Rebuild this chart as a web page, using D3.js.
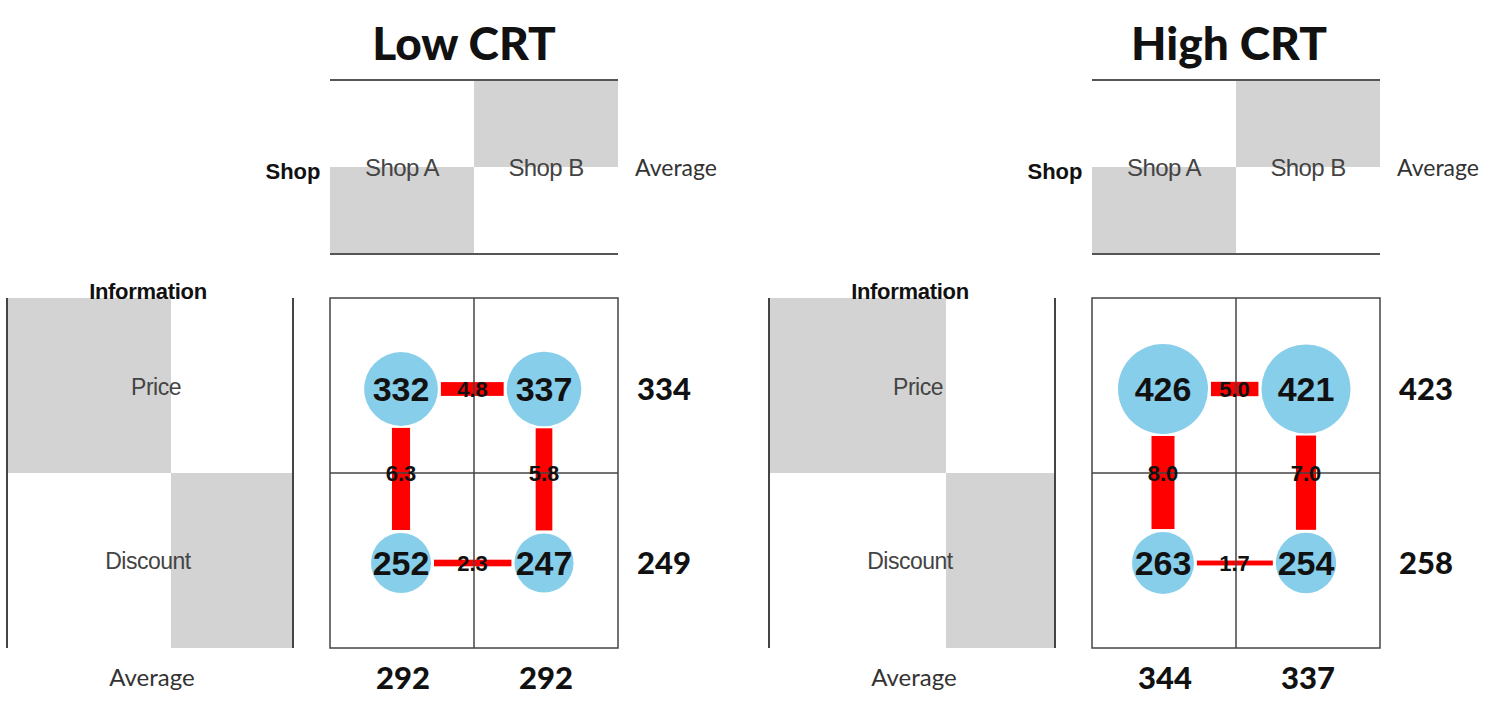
<!DOCTYPE html>
<html>
<head>
<meta charset="utf-8">
<script src="https://cdn.jsdelivr.net/npm/d3@7"></script>
<style>
  body { margin: 0; background: #fff; }
  svg { display: block; }
</style>
</head>
<body>
<div class="chart"></div>
<script>
const panelNames = ['Low CRT', 'High CRT'];
const shops = ['Shop A', 'Shop B'];
const infos = ['Price', 'Discount'];

// cell means, rows = information, cols = shop
const lowPrice = [332, 337];
const lowDiscount = [252, 247];
const highPrice = [426, 421];
const highDiscount = [263, 254];

const lowInfoAvg = [334, 249];
const highInfoAvg = [423, 258];
const lowShopAvg = [292, 292];
const highShopAvg = [344, 337];

// differences between shops (per row) and between information types (per column)
const lowShopGap = [4.8, 2.3];
const lowInfoGap = [6.3, 5.8];
const highShopGap = [5.0, 1.7];
const highInfoGap = [8.0, 7.0];

const panels = [
  { name: panelNames[0], cells: [lowPrice, lowDiscount], infoAvg: lowInfoAvg, shopAvg: lowShopAvg,
    shopGap: lowShopGap, infoGap: lowInfoGap, dx: 0, split: 171, titleX: 464 },
  { name: panelNames[1], cells: [highPrice, highDiscount], infoAvg: highInfoAvg, shopAvg: highShopAvg,
    shopGap: highShopGap, infoGap: highInfoGap, dx: 762, split: 184, titleX: 467 }
];

const width = 1500, height = 707;
const svg = d3.select('.chart').append('svg')
  .attr('width', width).attr('height', height);
svg.append('rect').attr('width', width).attr('height', height).attr('fill', '#fff');

const gridX = d3.scaleBand().domain(shops).range([330, 618]);
const gridY = d3.scaleBand().domain(infos).range([298, 648]);
const px = d3.scalePoint().domain(shops).range([401, 544]);
const py = d3.scalePoint().domain(infos).range([389, 563]);
const radius = d3.scaleLinear().domain([252, 426]).range([30, 45]);
const thick = d3.scaleLinear().domain([0, 8]).range([0, 23]);
const fmt = d3.format('.1f');

const gray = '#d3d3d3', lineCol = '#444';
const sans = "'Liberation Sans', Arial, sans-serif";
const cal = "Lato, 'Open Sans', sans-serif";

panels.forEach(p => {
  const g = svg.append('g').attr('transform', 'translate(' + p.dx + ',0)');

  // title
  g.append('text').attr('x', p.titleX).attr('y', 60)
    .attr('text-anchor', 'middle').attr('font-family', cal).attr('font-weight', 900)
    .attr('font-size', 46).attr('fill', '#111').text(p.name);

  // shop strip
  g.append('rect').attr('x', gridX('Shop A')).attr('y', 167)
    .attr('width', gridX.bandwidth()).attr('height', 86).attr('fill', gray);
  g.append('rect').attr('x', gridX('Shop B')).attr('y', 81)
    .attr('width', gridX.bandwidth()).attr('height', 86).attr('fill', gray);
  [80, 254].forEach(y => {
    g.append('line').attr('x1', 330).attr('x2', 618).attr('y1', y).attr('y2', y)
      .attr('stroke', '#555').attr('stroke-width', 2);
  });
  g.selectAll('text.shop').data(shops).enter().append('text')
    .attr('class', 'shop')
    .attr('x', d => gridX(d) + gridX.bandwidth() / 2)
    .attr('y', 176).attr('text-anchor', 'middle')
    .attr('font-family', sans).attr('font-size', 24).attr('fill', '#444')
    .attr('letter-spacing', -0.6)
    .text(d => d);
  g.append('text').attr('x', 293).attr('y', 179).attr('text-anchor', 'middle')
    .attr('font-family', sans).attr('font-weight', 700).attr('font-size', 22)
    .attr('fill', '#111').text('Shop');
  g.append('text').attr('x', 676).attr('y', 176).attr('text-anchor', 'middle')
    .attr('font-family', cal).attr('font-size', 23).attr('fill', '#333').text('Average');

  // information strip
  g.append('rect').attr('x', 7).attr('y', gridY('Price'))
    .attr('width', p.split - 7).attr('height', gridY.bandwidth()).attr('fill', gray);
  g.append('rect').attr('x', p.split).attr('y', gridY('Discount'))
    .attr('width', 293 - p.split).attr('height', gridY.bandwidth()).attr('fill', gray);
  [7, 293].forEach(x => {
    g.append('line').attr('x1', x).attr('x2', x).attr('y1', 298).attr('y2', 648)
      .attr('stroke', '#444').attr('stroke-width', 2);
  });
  g.append('text').attr('x', 148).attr('y', 299).attr('text-anchor', 'middle')
    .attr('font-family', sans).attr('font-weight', 700).attr('font-size', 22)
    .attr('letter-spacing', -0.3).attr('fill', '#111').text('Information');
  g.selectAll('text.info').data(infos).enter().append('text')
    .attr('class', 'info')
    .attr('x', d => d === 'Price' ? 156 : 148)
    .attr('y', d => py(d) + 6).attr('text-anchor', 'middle')
    .attr('font-family', sans).attr('font-size', 23).attr('fill', '#444')
    .attr('letter-spacing', -0.5)
    .text(d => d);
  g.append('text').attr('x', 152).attr('y', 686).attr('text-anchor', 'middle')
    .attr('font-family', cal).attr('font-size', 24).attr('fill', '#333').text('Average');

  // connectors between shops (horizontal)
  infos.forEach((inf, i) => {
    const v = p.shopGap[i];
    const x1 = px('Shop A') + radius(p.cells[i][0]) + 3;
    const x2 = px('Shop B') - radius(p.cells[i][1]) - 3;
    g.append('rect').attr('x', x1).attr('y', py(inf) - thick(v) / 2)
      .attr('width', x2 - x1).attr('height', thick(v)).attr('fill', '#ff0000');
  });
  // connectors between information types (vertical)
  shops.forEach((s, j) => {
    const v = p.infoGap[j];
    const y1 = py('Price') + radius(p.cells[0][j]) + 2;
    const y2 = py('Discount') - radius(p.cells[1][j]) - 3;
    g.append('rect').attr('x', px(s) - thick(v) / 2).attr('y', y1)
      .attr('width', thick(v)).attr('height', y2 - y1).attr('fill', '#ff0000');
  });

  // grid
  g.append('rect').attr('x', 330).attr('y', 298).attr('width', 288).attr('height', 350)
    .attr('fill', 'none').attr('stroke', lineCol).attr('stroke-width', 1.5);
  g.append('line').attr('x1', gridX('Shop B')).attr('x2', gridX('Shop B'))
    .attr('y1', 298).attr('y2', 648).attr('stroke', lineCol).attr('stroke-width', 1.5);
  g.append('line').attr('x1', 330).attr('x2', 618)
    .attr('y1', gridY('Discount')).attr('y2', gridY('Discount'))
    .attr('stroke', lineCol).attr('stroke-width', 1.5);

  // gap labels
  infos.forEach((inf, i) => {
    g.append('text').attr('x', (px('Shop A') + px('Shop B')) / 2).attr('y', py(inf) + 8)
      .attr('text-anchor', 'middle').attr('font-family', sans).attr('font-weight', 700)
      .attr('font-size', 22).attr('fill', '#111').text(fmt(p.shopGap[i]));
  });
  shops.forEach((s, j) => {
    g.append('text').attr('x', px(s)).attr('y', gridY('Discount') + 8)
      .attr('text-anchor', 'middle').attr('font-family', sans).attr('font-weight', 700)
      .attr('font-size', 22).attr('fill', '#111').text(fmt(p.infoGap[j]));
  });

  // circles
  const cellData = [];
  infos.forEach((inf, i) => shops.forEach((s, j) => cellData.push({ inf, s, v: p.cells[i][j] })));
  g.selectAll('circle.cell').data(cellData).enter().append('circle')
    .attr('class', 'cell')
    .attr('cx', d => px(d.s)).attr('cy', d => py(d.inf))
    .attr('r', d => radius(d.v)).attr('fill', '#87ceeb');
  g.selectAll('text.cell').data(cellData).enter().append('text')
    .attr('class', 'cell')
    .attr('x', d => px(d.s)).attr('y', d => py(d.inf) + 12)
    .attr('text-anchor', 'middle').attr('font-family', sans).attr('font-weight', 700)
    .attr('font-size', 34).attr('fill', '#111').text(d => d.v);

  // averages
  g.selectAll('text.rowavg').data(infos).enter().append('text')
    .attr('class', 'rowavg')
    .attr('x', 664).attr('y', (d, i) => py(d) + 11).attr('text-anchor', 'middle')
    .attr('font-family', cal).attr('font-weight', 900).attr('font-size', 31)
    .attr('fill', '#111').text((d, i) => p.infoAvg[i]);
  g.selectAll('text.colavg').data(shops).enter().append('text')
    .attr('class', 'colavg')
    .attr('x', d => px(d) + 2).attr('y', 689).attr('text-anchor', 'middle')
    .attr('font-family', cal).attr('font-weight', 900).attr('font-size', 31)
    .attr('fill', '#111').text((d, i) => p.shopAvg[i]);
});
</script>
</body>
</html>
